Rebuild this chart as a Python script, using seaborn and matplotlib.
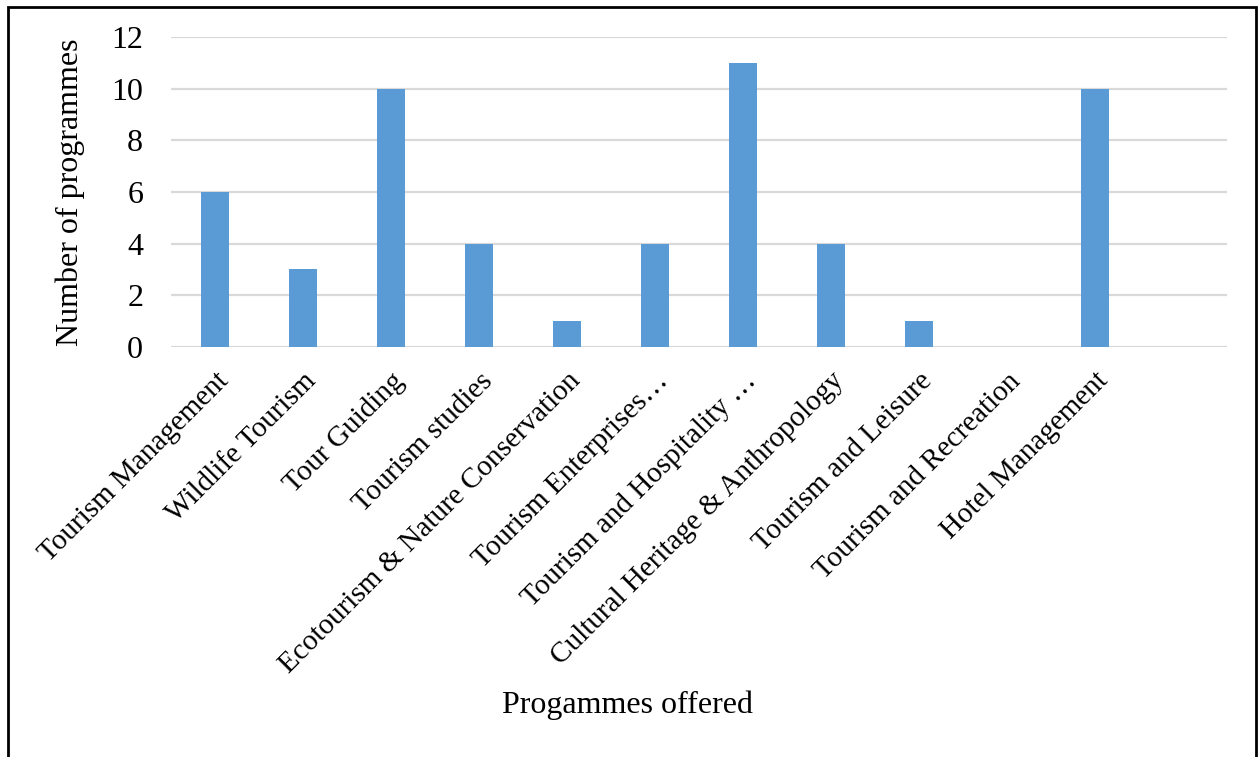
import matplotlib
matplotlib.use("Agg")
import matplotlib.pyplot as plt
import seaborn as sns
import pandas as pd
from matplotlib.patches import Rectangle

# Data
programmes = [
    "Tourism Management", "Wildlife Tourism", "Tour Guiding", "Tourism studies",
    "Ecotourism & Nature Conservation", "Tourism Enterprises…",
    "Tourism and Hospitality …", "Cultural Heritage & Anthropology",
    "Tourism and Leisure", "Tourism and Recreation", "Hotel Management", "",
]
counts = [6, 3, 10, 4, 1, 4, 11, 4, 1, 0, 10, 0]

df = pd.DataFrame({"programme": programmes, "count": counts})

sns.set_theme(style="white")
plt.rcParams["font.family"] = ["Liberation Serif", "DejaVu Serif"]
plt.rcParams["text.color"] = "black"
plt.rcParams["axes.labelcolor"] = "black"

fig = plt.figure(figsize=(12.58, 7.57), dpi=100)
ax = fig.add_axes([171 / 1258, 1 - 347 / 757, (1227 - 171) / 1258, (347 - 37) / 757])

sns.barplot(data=df, x="programme", y="count", color="#5B9BD5", width=0.32,
            saturation=1, linewidth=0, ax=ax, zorder=3)

ax.set_ylim(0, 12)
ax.set_yticks(range(0, 13, 2))
ax.set_xlim(-0.5, len(programmes) - 0.5)
ax.yaxis.grid(True, color="#d9d9d9", linewidth=1.6, zorder=0)
ax.set_axisbelow(True)
for s in ax.spines.values():
    s.set_visible(False)
ax.tick_params(axis="y", length=0, labelsize=23, colors="black", pad=20)
ax.tick_params(axis="x", length=0, labelsize=21, colors="black", pad=15)
ax.set_xticks(range(len(programmes)))
ax.set_xticklabels(programmes, rotation=45, ha="right", va="top",
                   rotation_mode="anchor")

ax.set_ylabel("Number of programmes", fontsize=23, labelpad=19)
ax.set_xlabel("")
fig.text(628 / 1258, 1 - 705 / 757, "Progammes offered", fontsize=23,
         ha="center", va="center")

# outer chart border
fig.patches.append(Rectangle((8 / 1258, -0.01), (1256 - 8) / 1258, 1 - 7 / 757 + 0.01,
                             transform=fig.transFigure, fill=False,
                             edgecolor="black", linewidth=2))

fig.savefig("out.png", dpi=100, facecolor="white")
